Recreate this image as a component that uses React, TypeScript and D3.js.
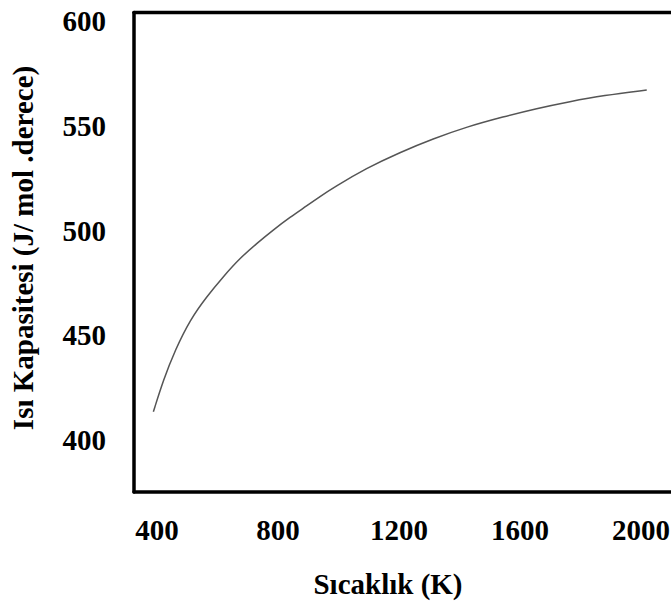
import React from "react";
import * as d3 from "d3";

// Heat capacity vs temperature
const temperatures = [388, 421, 460, 509, 564, 619, 674, 730, 784, 840, 895, 939, 983, 1093, 1203, 1313, 1424, 1545, 1655, 1765, 1875, 2019];
const heatCapacity = [413.5, 428.7, 443.0, 457.4, 468.5, 478.1, 486.9, 494.0, 500.4, 506.5, 511.9, 516.4, 520.6, 530.0, 537.5, 544.0, 549.7, 554.5, 558.5, 561.8, 564.7, 567.3];

const xTicks = [400, 800, 1200, 1600, 2000];
const yTicks = [400, 450, 500, 550, 600];

const xTitle = "Sıcaklık (K)";
const yTitle = "Isı Kapasitesi (J/ mol .derece)";

const W = 671;
const H = 603;
const FONT = "'Liberation Serif', 'Times New Roman', serif";

export default function App() {
  const x = d3.scaleLinear().domain([400, 2000]).range([157, 641]);
  const y = d3.scaleLinear().domain([400, 600]).range([440, 21.6]);

  // frame of the plot area
  const left = 134;
  const top = 12.5;
  const bottom = 492;

  const points: [number, number][] = temperatures.map((t, i) => [t, heatCapacity[i]]);
  const line = d3
    .line<[number, number]>()
    .x((d) => x(d[0]))
    .y((d) => y(d[1]))
    .curve(d3.curveBasis);

  return (
    <svg
      width={W}
      height={H}
      viewBox={`0 0 ${W} ${H}`}
      style={{ position: "absolute", left: 0, top: 0, background: "#fff" }}
    >
      <rect x={0} y={0} width={W} height={H} fill="#fff" />

      {/* axis frame */}
      <g stroke="#000" strokeWidth={3.5} strokeLinecap="round" fill="none">
        <line x1={left} y1={top} x2={left} y2={bottom} />
        <line x1={left} y1={top} x2={W + 2} y2={top} />
        <line x1={left} y1={bottom} x2={W + 2} y2={bottom} />
      </g>

      {/* data curve */}
      <path d={line(points) ?? ""} fill="none" stroke="#555" strokeWidth={1.5} />

      {/* y tick labels */}
      <g fontFamily={FONT} fontWeight="bold" fontSize={29} fill="#000">
        {yTicks.map((v) => (
          <text key={v} x={106} y={y(v)} dy="0.34em" textAnchor="end">
            {v}
          </text>
        ))}
      </g>

      {/* x tick labels */}
      <g fontFamily={FONT} fontWeight="bold" fontSize={29} fill="#000">
        {xTicks.map((v) => (
          <text key={v} x={x(v)} y={540} textAnchor="middle">
            {v}
          </text>
        ))}
      </g>

      {/* axis titles */}
      <text
        x={388}
        y={594}
        textAnchor="middle"
        fontFamily={FONT}
        fontWeight="bold"
        fontSize={29}
        fill="#000"
      >
        {xTitle}
      </text>
      <text
        transform={`translate(33, 248) rotate(-90)`}
        textAnchor="middle"
        fontFamily={FONT}
        fontWeight="bold"
        fontSize={29}
        fill="#000"
      >
        {yTitle}
      </text>
    </svg>
  );
}
